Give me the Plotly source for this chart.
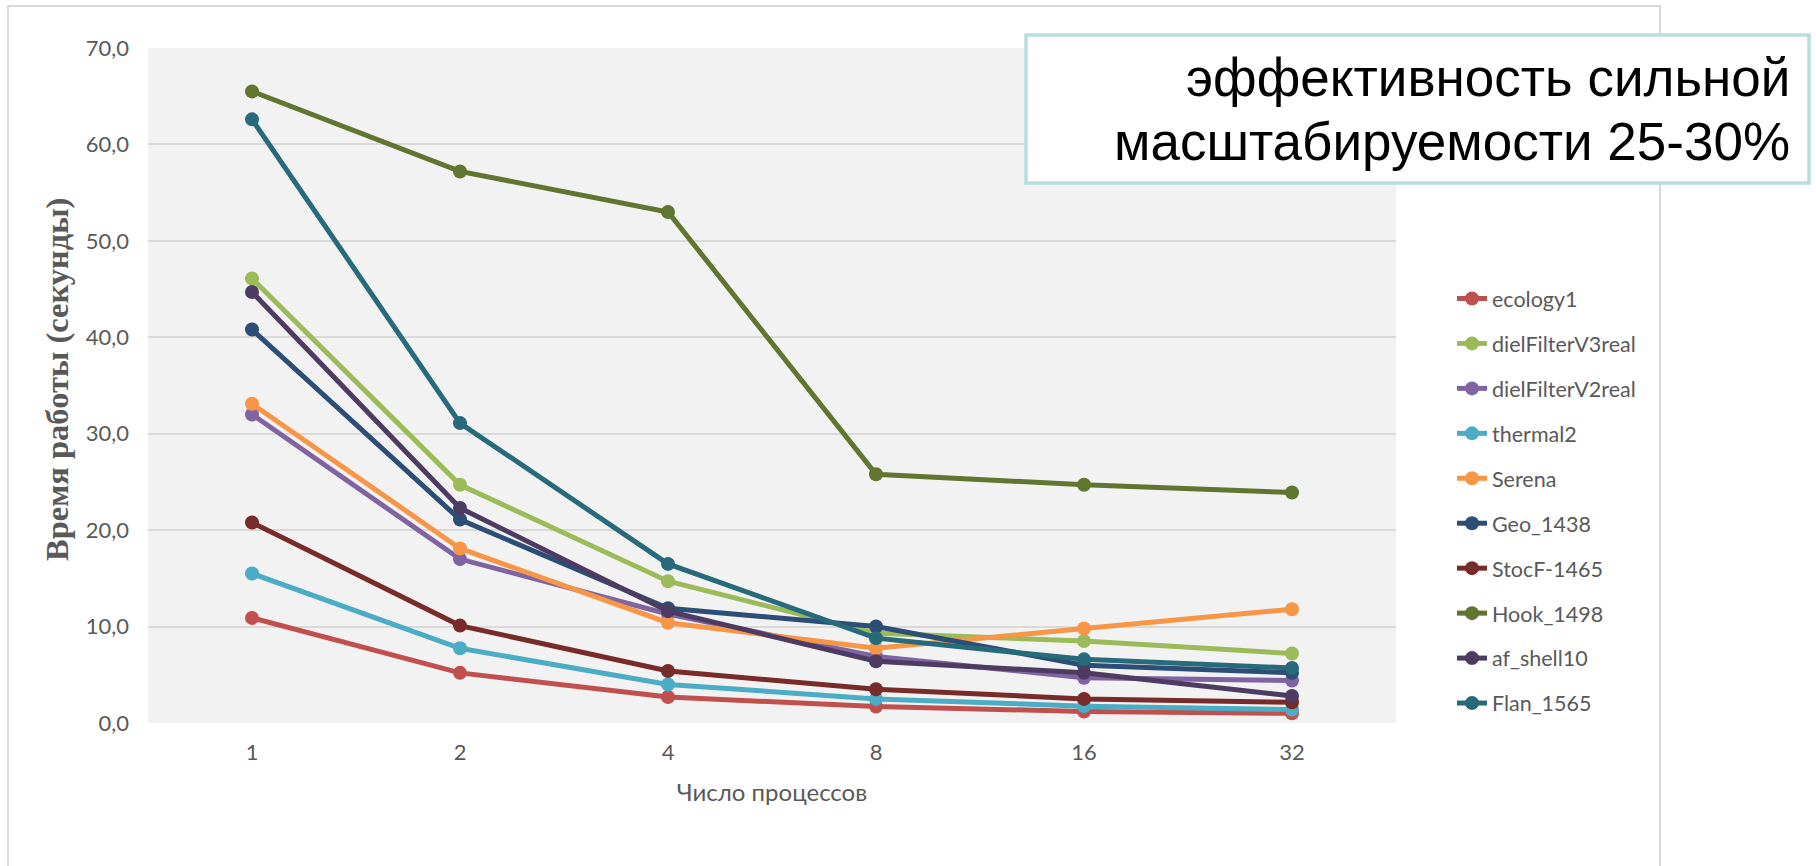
import plotly.graph_objects as go

processes = ["1", "2", "4", "8", "16", "32"]

ecology1 = [10.9, 5.2, 2.7, 1.7, 1.2, 1.0]
dielFilterV3real = [46.1, 24.7, 14.7, 9.3, 8.5, 7.2]
dielFilterV2real = [32.0, 17.0, 11.3, 6.9, 4.7, 4.4]
thermal2 = [15.5, 7.75, 4.0, 2.5, 1.75, 1.4]
Serena = [33.1, 18.1, 10.4, 7.75, 9.8, 11.8]
Geo_1438 = [40.8, 21.1, 11.9, 10.0, 6.0, 5.2]
StocF_1465 = [20.8, 10.1, 5.4, 3.5, 2.5, 2.15]
Hook_1498 = [65.5, 57.2, 53.0, 25.8, 24.7, 23.9]
af_shell10 = [44.7, 22.3, 11.6, 6.4, 5.2, 2.8]
Flan_1565 = [62.6, 31.1, 16.5, 8.8, 6.6, 5.7]

series_names = ["ecology1", "dielFilterV3real", "dielFilterV2real", "thermal2", "Serena",
                "Geo_1438", "StocF-1465", "Hook_1498", "af_shell10", "Flan_1565"]
series_values = [ecology1, dielFilterV3real, dielFilterV2real, thermal2, Serena,
                 Geo_1438, StocF_1465, Hook_1498, af_shell10, Flan_1565]
series_colors = ["#C0504D", "#9BBB59", "#8064A2", "#4BACC6", "#F79646",
                 "#2C4D75", "#772C2A", "#5F7530", "#4D3B62", "#276A7C"]

y_ticks = [0, 10, 20, 30, 40, 50, 60, 70]
y_ticklabels = ["0,0", "10,0", "20,0", "30,0", "40,0", "50,0", "60,0", "70,0"]

note_lines = ["эффективность сильной", "масштабируемости 25-30%"]

FIG_W, FIG_H = 1816, 866
PL, PR, PT, PB = 148, 1396, 48, 723


def px_x(x):
    return (x - PL) / (PR - PL)


def px_y(y):
    return (PB - y) / (PB - PT)


fig = go.Figure()
for i, (name, vals, col) in enumerate(zip(series_names, series_values, series_colors)):
    fig.add_trace(go.Scatter(
        x=processes, y=vals, name=name, mode="lines+markers",
        line=dict(color=col, width=5),
        marker=dict(color=col, size=14),
        legendgroup="g%d" % i,
    ))

tick_font = dict(family="Lato, Open Sans, sans-serif", size=22, color="#595959")

annotations = [
    dict(text="Время работы (секунды)", textangle=-90,
         xref="paper", yref="paper", x=px_x(57), y=px_y(380),
         xanchor="center", yanchor="middle", showarrow=False,
         font=dict(family="Liberation Serif, Times New Roman, serif", size=32.5, color="#595959",
                   weight="bold")),
]
for line_text, cy in zip(note_lines, [77.6, 141.6]):
    annotations.append(dict(
        text=line_text, xref="paper", yref="paper", x=px_x(1792), y=px_y(cy),
        xanchor="right", yanchor="middle", align="right", showarrow=False,
        font=dict(family="Liberation Sans, Arial, sans-serif", size=53, color="black")))

fig.update_layout(
    width=FIG_W, height=FIG_H, autosize=False,
    margin=dict(l=PL, r=FIG_W - PR, t=PT, b=FIG_H - PB, pad=0),
    paper_bgcolor="white",
    plot_bgcolor="#F2F2F2",
    showlegend=True,
    legend=dict(
        x=px_x(1452), y=px_y(278), xanchor="left", yanchor="top",
        font=dict(family="Lato, Open Sans, sans-serif", size=21.5, color="#595959"),
        bgcolor="rgba(0,0,0,0)", borderwidth=0,
        tracegroupgap=14, traceorder="grouped",
    ),
    xaxis=dict(
        type="category", range=[-0.5, 5.5],
        showgrid=False, zeroline=False, showline=False, ticks="",
        tickfont=tick_font, ticklabelstandoff=14,
        title=dict(text="Число процессов",
                   font=dict(family="Lato, Open Sans, sans-serif", size=24, color="#595959"),
                   standoff=20),
    ),
    yaxis=dict(
        range=[0, 70], tickvals=y_ticks, ticktext=y_ticklabels,
        showgrid=True, gridcolor="#D9D9D9", gridwidth=2,
        zeroline=False, showline=False, ticks="",
        tickfont=tick_font, ticklabelstandoff=18,
    ),
    shapes=[
        dict(type="rect", xref="paper", yref="paper",
             x0=px_x(8), x1=px_x(1660), y0=px_y(900), y1=px_y(6),
             line=dict(color="#D9D9D9", width=2), fillcolor="rgba(0,0,0,0)", layer="below"),
        dict(type="rect", xref="paper", yref="paper",
             x0=px_x(1026), x1=px_x(1809), y0=px_y(183), y1=px_y(35),
             line=dict(color="#B7DEE1", width=3.5), fillcolor="white", layer="above"),
    ],
    annotations=annotations,
)

fig.write_html("out.html")
